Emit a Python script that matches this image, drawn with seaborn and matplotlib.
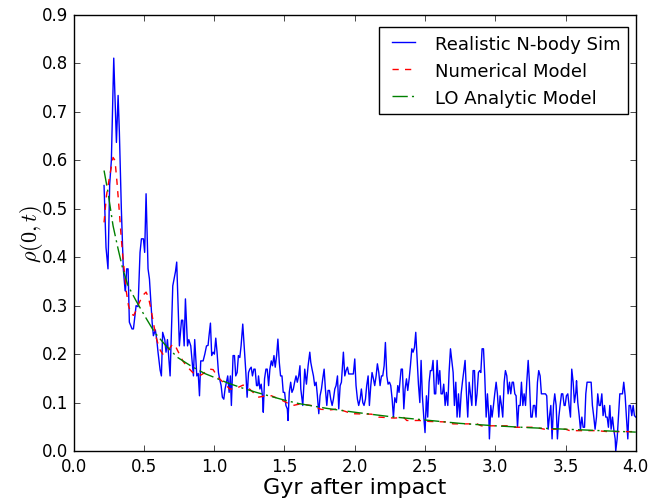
import numpy as np
import pandas as pd
import seaborn as sns
import matplotlib.pyplot as plt

# values
blue_x = [0.216, 0.230, 0.244, 0.256, 0.268, 0.285, 0.304, 0.316, 0.325, 0.339,
          0.353, 0.363, 0.368, 0.377, 0.387, 0.396, 0.415, 0.425, 0.444, 0.458,
          0.472, 0.482, 0.496, 0.505, 0.515, 0.529, 0.539, 0.558, 0.567, 0.581,
          0.591, 0.600, 0.615, 0.624, 0.633, 0.648, 0.657, 0.667, 0.686, 0.705,
          0.724, 0.733, 0.752, 0.767, 0.776, 0.786, 0.795, 0.810, 0.819, 0.833,
          0.852, 0.861, 0.876, 0.886, 0.895,
          0.904, 0.921, 0.933, 0.945, 0.956, 0.963, 0.973, 0.982, 0.992, 1.001,
          1.011, 1.020, 1.030, 1.039, 1.049, 1.058, 1.068, 1.077, 1.087, 1.096,
          1.106, 1.115, 1.122, 1.134, 1.144, 1.153, 1.163, 1.172, 1.182, 1.191,
          1.203, 1.215, 1.225, 1.234, 1.244, 1.253, 1.263, 1.272, 1.282, 1.291,
          1.301, 1.310, 1.315, 1.325, 1.334, 1.344, 1.349, 1.358, 1.368, 1.377,
          1.387, 1.396, 1.406, 1.415, 1.425, 1.434, 1.444, 1.453, 1.463, 1.472,
          1.482, 1.491, 1.501, 1.510, 1.520, 1.525, 1.534, 1.544, 1.553, 1.563,
          1.572, 1.582, 1.591, 1.601, 1.610,
          1.616, 1.630, 1.644, 1.656, 1.668, 1.680, 1.687, 1.696, 1.706, 1.715,
          1.725, 1.734, 1.744, 1.753, 1.763, 1.772, 1.782, 1.791, 1.801, 1.810,
          1.820, 1.829, 1.839, 1.848, 1.858, 1.867, 1.877, 1.886, 1.896, 1.905,
          1.919, 1.929, 1.938, 1.948, 1.957, 1.976, 1.990, 2.000, 2.009, 2.019,
          2.028, 2.038, 2.047, 2.057, 2.066, 2.076, 2.085, 2.095, 2.104, 2.114,
          2.123, 2.133, 2.142, 2.152, 2.161, 2.171, 2.180, 2.190, 2.199, 2.209,
          2.218, 2.228, 2.237, 2.247, 2.256, 2.266, 2.275, 2.285,
          2.296, 2.306, 2.315, 2.320, 2.330, 2.339, 2.349, 2.358, 2.368, 2.377,
          2.387, 2.396, 2.406, 2.415, 2.425, 2.434, 2.444, 2.453, 2.463, 2.472,
          2.481, 2.491, 2.500, 2.510, 2.519, 2.529, 2.538, 2.548, 2.557, 2.567,
          2.576, 2.586, 2.595, 2.605, 2.614, 2.624, 2.633, 2.643, 2.652, 2.662,
          2.671, 2.681, 2.690, 2.700, 2.709, 2.719, 2.728, 2.738, 2.747, 2.757,
          2.766, 2.776, 2.785, 2.795, 2.804, 2.814, 2.823, 2.833, 2.842, 2.852,
          2.861, 2.870, 2.880, 2.889,
          2.897, 2.906, 2.916, 2.925, 2.935, 2.944, 2.954, 2.958, 2.968, 2.977,
          2.987, 2.996, 3.006, 3.015, 3.025, 3.034, 3.044, 3.053, 3.063, 3.072,
          3.082, 3.091, 3.101, 3.110, 3.120, 3.129, 3.139, 3.148, 3.158, 3.167,
          3.177, 3.186, 3.196, 3.205, 3.215, 3.224, 3.234, 3.243, 3.253, 3.262,
          3.271, 3.281, 3.290, 3.300, 3.309, 3.319, 3.328, 3.338, 3.347, 3.357,
          3.366, 3.376, 3.385, 3.395, 3.404, 3.414, 3.423, 3.433, 3.442, 3.452,
          3.461, 3.471, 3.480, 3.490,
          3.497, 3.506, 3.516, 3.525, 3.535, 3.544, 3.554, 3.563, 3.573, 3.578,
          3.587, 3.597, 3.606, 3.616, 3.625, 3.635, 3.644, 3.653, 3.663, 3.672,
          3.682, 3.691, 3.701, 3.710, 3.720, 3.729, 3.739, 3.748, 3.758, 3.767,
          3.777, 3.786, 3.796, 3.805, 3.815, 3.824, 3.834, 3.843, 3.853, 3.857,
          3.867, 3.876, 3.886, 3.895, 3.905, 3.914, 3.924, 3.933, 3.943, 3.952,
          3.962, 3.971, 3.981, 3.990, 4.000]
blue_y = [0.548, 0.420, 0.376, 0.550, 0.600, 0.811, 0.637, 0.734, 0.658, 0.500,
          0.376, 0.341, 0.330, 0.376, 0.376, 0.266, 0.252, 0.252, 0.300, 0.298,
          0.410, 0.438, 0.438, 0.410, 0.531, 0.376, 0.355, 0.266, 0.238, 0.250,
          0.230, 0.204, 0.167, 0.155, 0.245, 0.230, 0.204, 0.230, 0.155, 0.341,
          0.370, 0.390, 0.217, 0.270, 0.270, 0.217, 0.314, 0.217, 0.230, 0.217,
          0.155, 0.230, 0.155, 0.160, 0.114,
          0.186, 0.186, 0.200, 0.217, 0.218, 0.238, 0.264, 0.197, 0.204, 0.200,
          0.233, 0.204, 0.162, 0.148, 0.135, 0.111, 0.107, 0.128, 0.142, 0.155,
          0.121, 0.155, 0.094, 0.197, 0.197, 0.155, 0.162, 0.197, 0.193, 0.217,
          0.262, 0.207, 0.162, 0.111, 0.162, 0.169, 0.173, 0.155, 0.169, 0.169,
          0.135, 0.135, 0.155, 0.128, 0.138, 0.111, 0.080, 0.149, 0.169, 0.169,
          0.135, 0.169, 0.186, 0.176, 0.197, 0.173, 0.197, 0.231, 0.183, 0.155,
          0.155, 0.121, 0.121, 0.094, 0.087, 0.063, 0.121, 0.142, 0.121, 0.128,
          0.142, 0.155, 0.142, 0.155, 0.176,
          0.128, 0.094, 0.169, 0.138, 0.176, 0.204, 0.183, 0.169, 0.155, 0.135,
          0.142, 0.114, 0.077, 0.114, 0.128, 0.149, 0.169, 0.128, 0.094, 0.125,
          0.125, 0.107, 0.094, 0.107, 0.128, 0.135, 0.155, 0.087, 0.135, 0.142,
          0.204, 0.155, 0.166, 0.173, 0.159, 0.159, 0.159, 0.190, 0.135, 0.107,
          0.094, 0.107, 0.128, 0.100, 0.094, 0.107, 0.135, 0.155, 0.094, 0.135,
          0.162, 0.149, 0.135, 0.155, 0.180, 0.162, 0.135, 0.155, 0.155, 0.176,
          0.224, 0.155, 0.138, 0.142, 0.135, 0.107, 0.070, 0.110,
          0.100, 0.135, 0.121, 0.138, 0.169, 0.169, 0.087, 0.128, 0.149, 0.125,
          0.149, 0.176, 0.211, 0.204, 0.214, 0.245, 0.190, 0.138, 0.100, 0.187,
          0.114, 0.070, 0.038, 0.114, 0.070, 0.142, 0.166, 0.166, 0.187, 0.118,
          0.118, 0.187, 0.138, 0.166, 0.118, 0.118, 0.138, 0.094, 0.121, 0.094,
          0.162, 0.211, 0.187, 0.162, 0.094, 0.142, 0.070, 0.118, 0.070, 0.118,
          0.142, 0.166, 0.187, 0.118, 0.070, 0.142, 0.118, 0.094, 0.166, 0.166,
          0.094, 0.118, 0.162, 0.166,
          0.162, 0.211, 0.211, 0.155, 0.070, 0.118, 0.070, 0.025, 0.094, 0.070,
          0.094, 0.118, 0.142, 0.118, 0.070, 0.114, 0.094, 0.070, 0.142, 0.166,
          0.155, 0.118, 0.142, 0.118, 0.142, 0.142, 0.118, 0.114, 0.049, 0.094,
          0.094, 0.142, 0.094, 0.118, 0.094, 0.142, 0.187, 0.142, 0.070, 0.070,
          0.094, 0.094, 0.070, 0.142, 0.166, 0.155, 0.118, 0.118, 0.118, 0.118,
          0.114, 0.045, 0.070, 0.094, 0.025, 0.094, 0.118, 0.094, 0.025, 0.070,
          0.094, 0.118, 0.118, 0.094,
          0.094, 0.114, 0.118, 0.094, 0.070, 0.169, 0.142, 0.100, 0.121, 0.145,
          0.100, 0.073, 0.045, 0.070, 0.049, 0.049, 0.118, 0.142, 0.142, 0.142,
          0.142, 0.094, 0.070, 0.045, 0.070, 0.118, 0.094, 0.094, 0.118, 0.073,
          0.094, 0.070, 0.070, 0.049, 0.094, 0.045, 0.070, 0.045, 0.025, 0.000,
          0.025, 0.070, 0.118, 0.118, 0.118, 0.142, 0.114, 0.070, 0.025, 0.094,
          0.094, 0.073, 0.094, 0.073, 0.070]

red_x = [0.216, 0.233, 0.256, 0.280, 0.294, 0.308, 0.325, 0.337, 0.349, 0.361,
         0.375, 0.390, 0.408, 0.427, 0.444, 0.468, 0.491, 0.515, 0.531, 0.550,
         0.569, 0.586, 0.610, 0.633, 0.657, 0.680, 0.705, 0.728, 0.752, 0.776,
         0.811, 0.847, 0.883, 0.907, 0.968, 0.992, 1.027, 1.063, 1.110, 1.146,
         1.205, 1.229, 1.277, 1.312, 1.371, 1.407, 1.466, 1.514, 1.561, 1.609,
         1.69, 1.76, 1.83, 1.88, 1.98, 2.12, 2.17, 2.28, 2.35, 2.37,
         2.46, 2.53, 2.65, 2.70, 2.87, 2.90, 3.09, 3.14, 3.28, 3.35,
         3.50, 3.53, 3.72, 3.80, 4.00]
red_y = [0.472, 0.527, 0.568, 0.606, 0.600, 0.555, 0.493, 0.445, 0.403, 0.369,
         0.328, 0.300, 0.283, 0.280, 0.290, 0.307, 0.321, 0.328, 0.318, 0.293,
         0.262, 0.235, 0.211, 0.200, 0.204, 0.211, 0.221, 0.214, 0.200, 0.186,
         0.173, 0.162, 0.157, 0.157, 0.169, 0.168, 0.152, 0.142, 0.128, 0.128,
         0.136, 0.134, 0.121, 0.111, 0.114, 0.114, 0.107, 0.100, 0.094, 0.097,
         0.094, 0.086, 0.085, 0.087, 0.077, 0.076, 0.070, 0.068, 0.069, 0.063,
         0.063, 0.061, 0.060, 0.056, 0.056, 0.052, 0.052, 0.049, 0.049, 0.045,
         0.045, 0.042, 0.042, 0.040, 0.040]

green_x = [0.216, 0.244, 0.280, 0.316, 0.349, 0.387, 0.444, 0.505, 0.575, 0.657,
           0.740, 0.837, 0.932, 1.0, 1.1, 1.2, 1.3, 1.4, 1.5, 1.6,
           1.8, 2.0, 2.25, 2.5, 2.75, 3.0, 3.25, 3.5, 3.75, 4.0]
green_y = [0.579, 0.534, 0.465, 0.417, 0.376, 0.341, 0.310, 0.279, 0.245, 0.217,
           0.193, 0.175, 0.160, 0.152, 0.140, 0.130, 0.121, 0.113, 0.105, 0.098,
           0.088, 0.080, 0.071, 0.064, 0.057, 0.052, 0.048, 0.045, 0.042, 0.039]

sim = pd.DataFrame({"t": blue_x, "rho": blue_y})
num = pd.DataFrame({"t": red_x, "rho": red_y})
lo = pd.DataFrame({"t": green_x, "rho": green_y})

plt.style.use("classic")
plt.rcParams["mathtext.fontset"] = "cm"

fig = plt.figure(figsize=(6.7, 5.02), dpi=100, facecolor="white")
ax = fig.add_axes([0.110, 0.0996, 0.839, 0.8685])

sns.lineplot(data=sim, x="t", y="rho", color="b", lw=1.0, sort=False,
             estimator=None, label="Realistic N-body Sim", ax=ax)
sns.lineplot(data=num, x="t", y="rho", color="r", lw=1.0, linestyle="--",
             sort=False, estimator=None, label="Numerical Model", ax=ax)
sns.lineplot(data=lo, x="t", y="rho", color="g", lw=1.0, linestyle="-.",
             sort=False, estimator=None, label="LO Analytic Model", ax=ax)
ax.lines[1].set_dashes([4.5, 4.5])
ax.lines[2].set_dashes([11, 3, 1.5, 3])

ax.set_xlim(0, 4.0)
ax.set_ylim(0, 0.9)
ax.set_xticks(np.arange(0, 4.01, 0.5))
ax.set_yticks(np.arange(0, 0.91, 0.1))
ax.tick_params(labelsize=12)
ax.set_xlabel("Gyr after impact", fontsize=16, labelpad=2)
ax.set_ylabel(r"$\rho(0,t)$", fontsize=16, labelpad=-2)
ax.legend(loc="upper right", bbox_to_anchor=(1.0, 0.99), fontsize=13,
          handlelength=1.9, fancybox=False, borderaxespad=0.45)

fig.savefig("out.png", dpi=100, facecolor="white")
